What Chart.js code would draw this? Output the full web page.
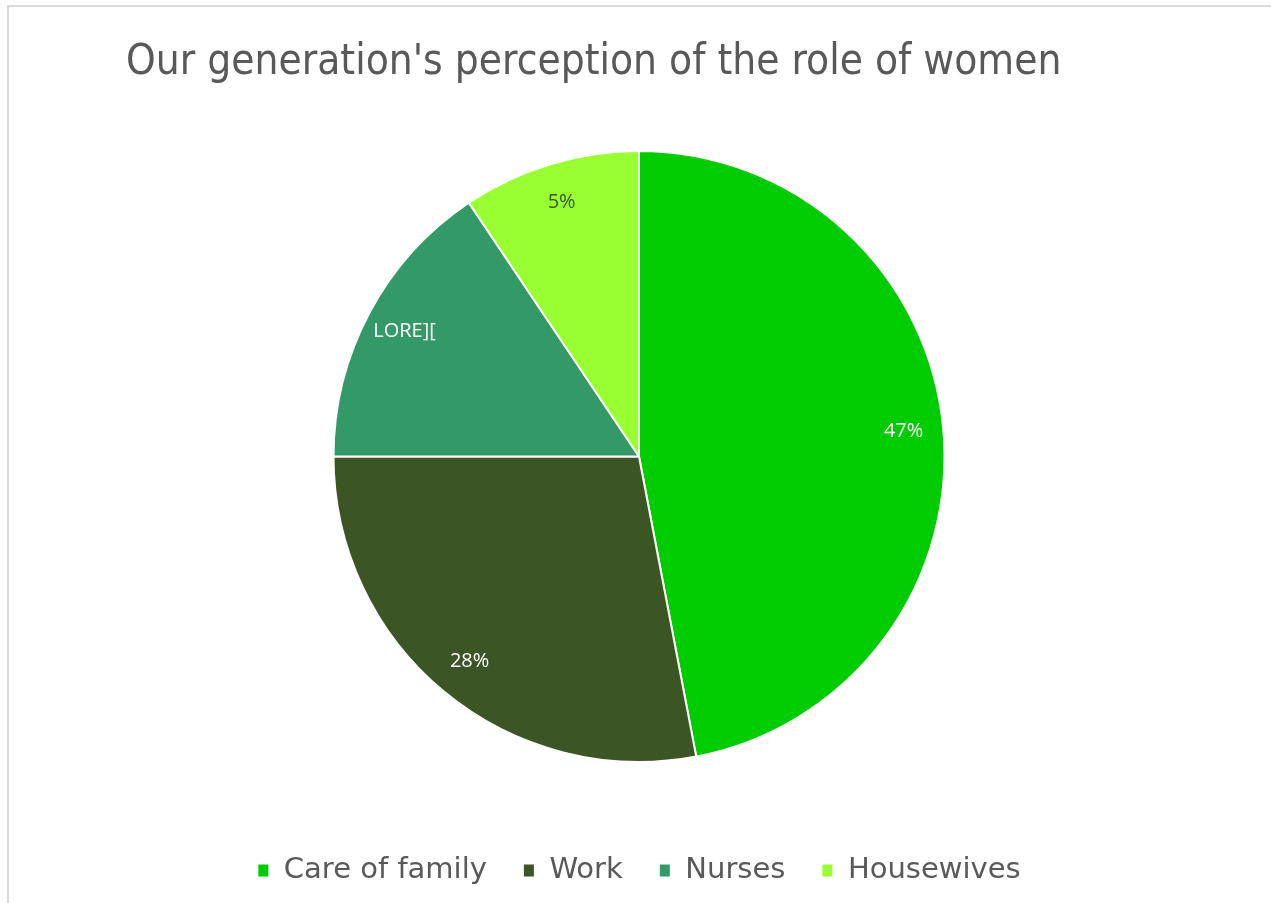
<!DOCTYPE html>
<html>
<head>
<meta charset="utf-8">
<script src="https://cdn.jsdelivr.net/npm/chart.js@4/dist/chart.umd.min.js"></script>
<style>
  html, body { margin: 0; padding: 0; background: #fff; }
  #wrap { position: absolute; left: 0; top: 0; width: 1271px; height: 903px; }
  #frame { position: absolute; left: 7px; top: 5px; width: 1264px; height: 898px;
           border-top: 2px solid #d9d9d9; border-left: 2px solid #d9d9d9; box-sizing: border-box; }
  canvas { position: absolute; left: 0; top: 0; }
</style>
</head>
<body>
<div id="wrap">
  <div id="frame"></div>
  <canvas id="c" width="1271" height="903"></canvas>
</div>
<script>
const titleText = "Our generation's perception of the role of women";
const categories = ["Care of family", "Work", "Nurses", "Housewives"];
const values = [47, 28, 15.6, 9.4];
const valueLabels = ["47%", "28%", "LORE][", "5%"];
const colors = ["#00CC00", "#3B5524", "#339966", "#99FF33"];
const labelColors = ["#ffffff", "#ffffff", "#ffffff", "#3B5524"];

const overlay = {
  id: 'overlay',
  afterDraw(chart) {
    const ctx = chart.ctx;
    ctx.save();
    // title
    ctx.fillStyle = '#595959';
    ctx.font = '42px "DejaVu Sans Condensed", "DejaVu Sans", sans-serif';
    ctx.textBaseline = 'alphabetic';
    ctx.textAlign = 'left';
    ctx.fillText(titleText, 126, 74);
    // data labels
    const meta = chart.getDatasetMeta(0);
    ctx.font = '20px "Open Sans", sans-serif';
    ctx.textAlign = 'center';
    ctx.textBaseline = 'middle';
    meta.data.forEach((arc, i) => {
      const p = arc.getProps(['x','y','startAngle','endAngle','outerRadius'], true);
      const mid = (p.startAngle + p.endAngle) / 2;
      const r = p.outerRadius * 0.87;
      ctx.fillStyle = labelColors[i];
      ctx.fillText(valueLabels[i], p.x + Math.cos(mid) * r, p.y + Math.sin(mid) * r);
    });
    ctx.restore();
  }
};

new Chart(document.getElementById('c'), {
  type: 'pie',
  data: {
    labels: categories,
    datasets: [{
      data: values,
      backgroundColor: colors,
      borderColor: '#ffffff',
      borderWidth: 2
    }]
  },
  options: {
    responsive: false,
    animation: false,
    devicePixelRatio: 1,
    layout: { padding: { top: 150, left: 7, right: 0, bottom: 8 } },
    plugins: {
      title: { display: false },
      tooltip: { enabled: false },
      legend: {
        position: 'bottom',
        title: { display: true, text: '', font: { size: 10 }, padding: { top: 45, bottom: 0 } },
        labels: {
          color: '#595959',
          font: { family: '"DejaVu Sans", sans-serif', size: 29 },
          boxWidth: 12,
          boxHeight: 14,
          padding: 36,
          useBorderRadius: false
        }
      }
    }
  },
  plugins: [overlay]
});
</script>
</body>
</html>
